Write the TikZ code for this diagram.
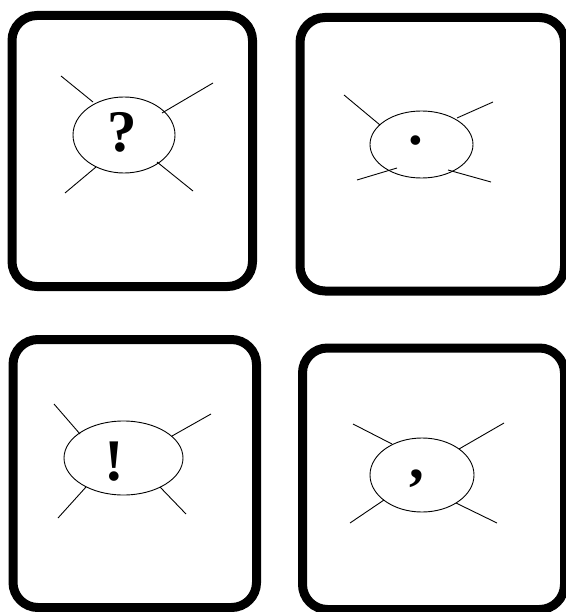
\documentclass[tikz,border=0pt]{standalone}
\usepackage{fontspec}
\setmainfont{Liberation Serif}

\begin{document}
\begin{tikzpicture}[
  x=1pt, y=-1pt,
  card/.style={draw, line width=9pt, rounded corners=25pt},
  bubble/.style={draw, line width=0.9pt},
  ray/.style={line width=0.9pt},
  punct/.style={font=\fontsize{59}{59}\selectfont\bfseries, inner sep=0pt}
]
\useasboundingbox (0,0) rectangle (565,612);

% cards
\draw[card] (12,15.5) rectangle (252.5,286.5);
\draw[card] (300,17.5) rectangle (564.5,291);
\draw[card] (13,339.5) rectangle (256.5,607.5);
\draw[card] (302.5,348) rectangle (564.5,609.5);

% bubbles
\draw[bubble] (124,135) ellipse [x radius=51pt, y radius=38pt];
\draw[bubble] (421.5,144.5) ellipse [x radius=51.5pt, y radius=33.5pt];
\draw[bubble] (123.5,458) ellipse [x radius=59.5pt, y radius=37pt];
\draw[bubble] (422,475) ellipse [x radius=52pt, y radius=37pt];

% rays round each bubble
\foreach \xa/\ya/\xb/\yb in {61/76/93/102, 213/83/162/113, 65/193/96/167, 193/191/157/162,
    344/95/380/125, 493/102/457/118, 357/180/397/168, 491/182/448/170,
    54/404/80/434, 211/414/172/436, 58/518/86/487, 186/514/160/487,
    353/424/392/444, 504/423/459/449, 350/523/384/500, 497/523/456/503}
  \draw[ray] (\xa,\ya) -- (\xb,\yb);

% punctuation marks
\node[punct] (qmark) at (122,132) {?};
\node[punct] (dot) at (416,141) {.};
\node[punct] (bang) at (114,461.5) {!};
\node[punct] (comma) at (417,479) {,};
\end{tikzpicture}
\end{document}
